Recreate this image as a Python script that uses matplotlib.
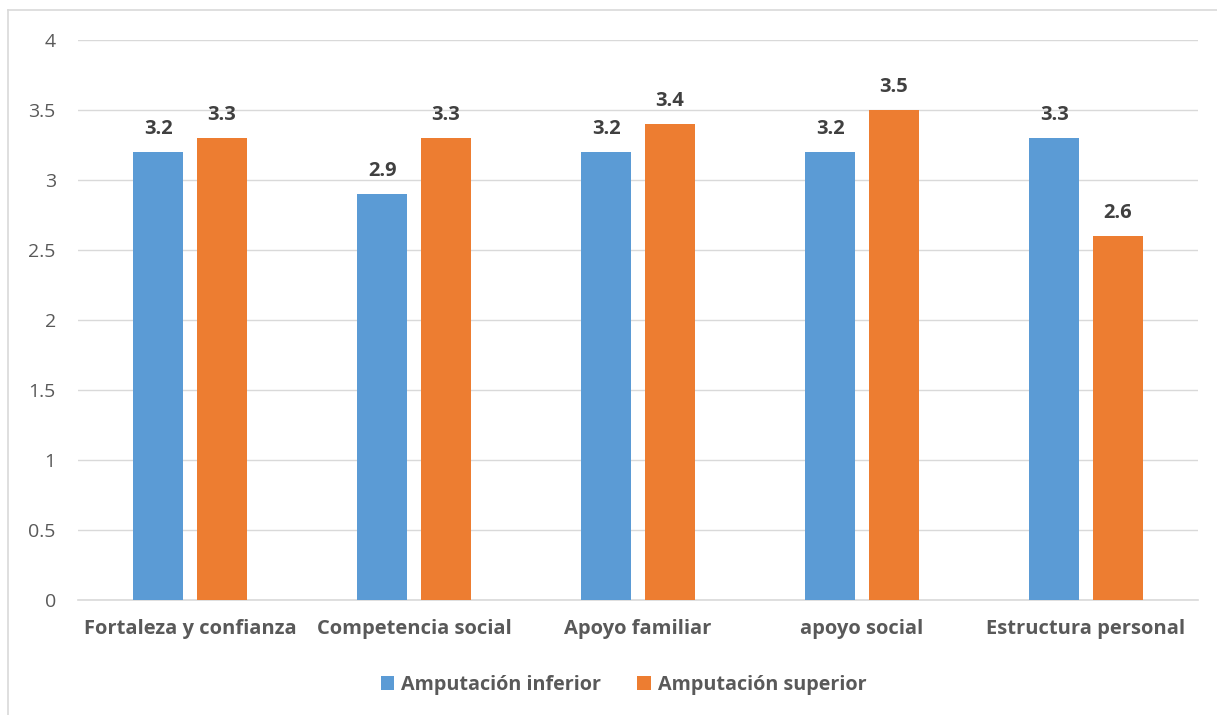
import matplotlib
matplotlib.use("Agg")
import matplotlib.pyplot as plt
import numpy as np

categories = ["Fortaleza y confianza", "Competencia social", "Apoyo familiar",
              "apoyo social", "Estructura personal"]
inferior = [3.2, 2.9, 3.2, 3.2, 3.3]
superior = [3.3, 3.3, 3.4, 3.5, 2.6]
series_names = ["Amputación inferior", "Amputación superior"]
y_ticks = [0, 0.5, 1, 1.5, 2, 2.5, 3, 3.5, 4]
y_tick_labels = ["0", "0.5", "1", "1.5", "2", "2.5", "3", "3.5", "4"]

plt.rcParams["font.family"] = ["Open Sans", "DejaVu Sans"]

blue = "#5b9bd5"
orange = "#ed7d31"
text_gray = "#595959"

fig = plt.figure(figsize=(12.17, 7.15), dpi=100)
ax = fig.add_axes([78 / 1217, 115 / 715, 1120 / 1217, 560 / 715])

x = np.arange(len(categories))
w = 0.223
off = 0.142
b1 = ax.bar(x - off, inferior, w, color=blue, zorder=3)
b2 = ax.bar(x + off, superior, w, color=orange, zorder=3)

for bars, vals in ((b1, inferior), (b2, superior)):
    for rect, v in zip(bars, vals):
        ax.text(rect.get_x() + rect.get_width() / 2, v + 0.09, f"{v:.1f}",
                ha="center", va="bottom", fontsize=14.5, fontweight="bold",
                color="#404040")

ax.set_xlim(-0.5, len(categories) - 0.5)
ax.set_ylim(0, 4)
ax.set_yticks(y_ticks)
ax.set_yticklabels(y_tick_labels, fontsize=14, color=text_gray)
ax.set_xticks(x)
ax.set_xticklabels(categories, fontsize=14.5, fontweight="bold", color=text_gray)
ax.tick_params(axis="both", length=0)
ax.tick_params(axis="y", pad=16)
ax.tick_params(axis="x", pad=14)

ax.grid(axis="y", color="#d9d9d9", linewidth=1, zorder=0)
for side in ("top", "right", "left"):
    ax.spines[side].set_visible(False)
ax.spines["bottom"].set_color("#d9d9d9")
ax.spines["bottom"].set_linewidth(1.2)

leg = ax.legend([b1, b2], series_names, loc="center", bbox_to_anchor=(0.487, -0.152),
                ncol=2, frameon=False, handlelength=0.7, handleheight=0.7,
                handletextpad=0.35, columnspacing=1.8,
                prop={"size": 14.2, "weight": "bold"})
for t in leg.get_texts():
    t.set_color(text_gray)

# outer chart frame (left and top edges)
fig.add_artist(plt.Line2D([7.5 / 1217, 7.5 / 1217], [0, 1 - 10 / 715],
                          transform=fig.transFigure, color="#d9d9d9", linewidth=1.2))
fig.add_artist(plt.Line2D([7.5 / 1217, 1], [1 - 10 / 715, 1 - 10 / 715],
                          transform=fig.transFigure, color="#d9d9d9", linewidth=1.2))

fig.savefig("out.png", dpi=100)
